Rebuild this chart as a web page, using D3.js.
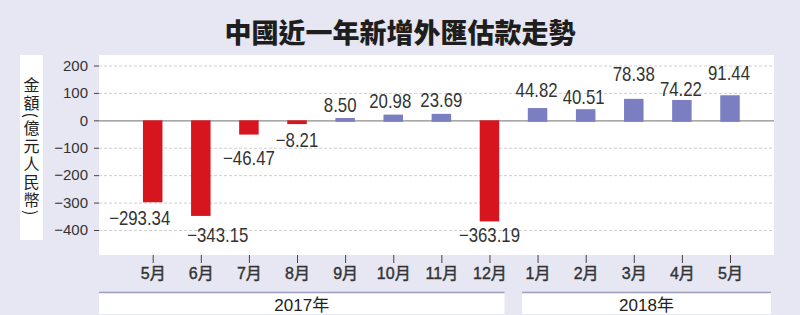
<!DOCTYPE html>
<html>
<head>
<meta charset="utf-8">
<script src="https://cdn.jsdelivr.net/npm/d3@7"></script>
<style>
  body { margin: 0; background: #e7e7f3; }
  svg { display: block; }
  .tick text { font-family: "Liberation Sans", Arial, sans-serif; }
</style>
</head>
<body>
<svg id="chart" width="800" height="315"></svg>
<script>
// data
let months = ["5月", "6月", "7月", "8月", "9月", "10月", "11月", "12月", "1月", "2月", "3月", "4月", "5月"];
let values = [-293.34, -343.15, -46.47, -8.21, 8.50, 20.98, 23.69, -363.19, 44.82, 40.51, 78.38, 74.22, 91.44];
let years = ["2017年", "2018年"];
let yearSpan = [[0, 7], [8, 12]];   // first / last month index of each year
let yTicks = [200, 100, 0, -100, -200, -300, -400];

// label nudges so the value labels sit like the print version (dx, dy from bar end)
let labelDx = [-13, 17, 0, 0, -5, -3, 0, 0, -1, -2, 0, -1, -1];
let labelDy = [24, 28, 32, 24, -6, -7, -6.5, 22, -11, -5.5, -17.5, -4, -15.5];

let width = 800, height = 315;
let panel = { left: 99, right: 774, top: 55, bottom: 255 };

let svg = d3.select("#chart");

// background
svg.append("rect")
    .attr("width", width)
    .attr("height", height)
    .attr("fill", "#e7e7f3");

// title
svg.append("text")
    .attr("x", 400)
    .attr("y", 43)
    .attr("text-anchor", "middle")
    .style("font-family", "'Noto Sans CJK TC', 'Noto Sans CJK SC', sans-serif")
    .style("font-weight", 900)
    .style("font-size", "27px")
    .attr("fill", "#1e1e1e")
    .text("中國近一年新增外匯估款走勢");

// white plot panel
svg.append("rect")
    .attr("x", panel.left)
    .attr("y", panel.top)
    .attr("width", panel.right - panel.left)
    .attr("height", panel.bottom - panel.top)
    .attr("fill", "#fff");

// y label box
svg.append("rect")
    .attr("x", 20)
    .attr("y", 55)
    .attr("width", 23)
    .attr("height", 185)
    .attr("fill", "#fff");

svg.append("text")
    .attr("x", 31.5)
    .attr("y", 147)
    .attr("text-anchor", "middle")
    .style("writing-mode", "vertical-rl")
    .style("font-family", "'Noto Sans CJK TC', sans-serif")
    .style("font-size", "16px")
    .style("letter-spacing", "2px")
    .attr("fill", "#222")
    .text("金額(億元人民幣)");

// scales
let x = d3.scalePoint()
    .domain(d3.range(months.length))
    .range([152.7, 730]);

let y = d3.scaleLinear()
    .domain([-400, 200])
    .range([230, 65.5]);

let barW = 19.5;

// gridlines
let grid = svg.append("g")
    .attr("transform", "translate(" + panel.left + ",0)")
    .call(d3.axisRight(y).tickValues(yTicks).tickSize(panel.right - panel.left).tickFormat(""));
grid.select(".domain").remove();
grid.selectAll(".tick line")
    .attr("stroke", d => d === 0 ? "#8c8c8c" : "#cfcfcf")
    .attr("stroke-width", d => d === 0 ? 1.2 : 1)
    .attr("stroke-dasharray", d => d === 0 ? null : "3,2");

// y axis
let yAxis = svg.append("g")
    .attr("transform", "translate(" + panel.left + ",0)")
    .call(d3.axisLeft(y).tickValues(yTicks).tickSize(5).tickPadding(6)
        .tickFormat(d => d < 0 ? "−" + Math.abs(d) : d));
yAxis.select(".domain").remove();
yAxis.selectAll(".tick line").attr("stroke", "#444");
yAxis.selectAll(".tick text")
    .style("font-size", "15px")
    .attr("fill", "#333");

// bars
svg.selectAll(".bar")
    .data(values)
    .enter()
    .append("rect")
    .attr("class", "bar")
    .attr("x", (d, i) => x(i) - barW / 2)
    .attr("y", d => y(Math.max(0, d)))
    .attr("width", barW)
    .attr("height", d => Math.abs(y(d) - y(0)) + 1.5)
    .attr("fill", d => d < 0 ? "#d6151e" : "#7b7ec1");

// value labels (condensed look by squeezing horizontally)
svg.selectAll(".val")
    .data(values)
    .enter()
    .append("text")
    .attr("class", "val")
    .attr("transform", (d, i) => "translate(" + (x(i) + labelDx[i]) + "," + (y(d) + labelDy[i]) + ") scale(0.84,1)")
    .attr("text-anchor", "middle")
    .style("font-family", "'Liberation Sans', Arial, sans-serif")
    .style("font-size", "20px")
    .attr("fill", "#333")
    .text(d => d < 0 ? "−" + Math.abs(d).toFixed(2) : d.toFixed(2));

// x axis (month ticks)
let xAxis = svg.append("g")
    .attr("transform", "translate(0," + panel.bottom + ")")
    .call(d3.axisBottom(x).tickSize(8).tickPadding(5).tickFormat(i => months[i]));
xAxis.select(".domain").remove();
xAxis.selectAll(".tick line").attr("stroke", "#444");
xAxis.selectAll(".tick text")
    .style("font-family", "'Liberation Sans', 'Noto Sans CJK TC', sans-serif")
    .style("font-size", "16px")
    .attr("fill", "#333")
    .attr("stroke", "#333")
    .attr("stroke-width", 0.4);

// year boxes
let yearG = svg.selectAll(".year")
    .data(years)
    .enter()
    .append("g")
    .attr("class", "year");

let yearX0 = (d, i) => i === 0 ? panel.left : x(yearSpan[i][0]) - 15.5;
let yearX1 = (d, i) => i === 0 ? x(yearSpan[i][1]) + 15 : panel.right - 3;

yearG.append("rect")
    .attr("x", yearX0)
    .attr("y", 293)
    .attr("width", (d, i) => yearX1(d, i) - yearX0(d, i))
    .attr("height", 21)
    .attr("fill", "#fff");

yearG.append("line")
    .attr("x1", yearX0)
    .attr("x2", yearX1)
    .attr("y1", 292.5)
    .attr("y2", 292.5)
    .attr("stroke", "#9d9dbf")
    .attr("stroke-width", 1.5);

yearG.append("text")
    .attr("x", (d, i) => (yearX0(d, i) + yearX1(d, i)) / 2)
    .attr("y", 311)
    .attr("text-anchor", "middle")
    .style("font-family", "'Liberation Sans', 'Noto Sans CJK TC', sans-serif")
    .style("font-size", "17px")
    .attr("fill", "#222")
    .text(d => d);
</script>
</body>
</html>
